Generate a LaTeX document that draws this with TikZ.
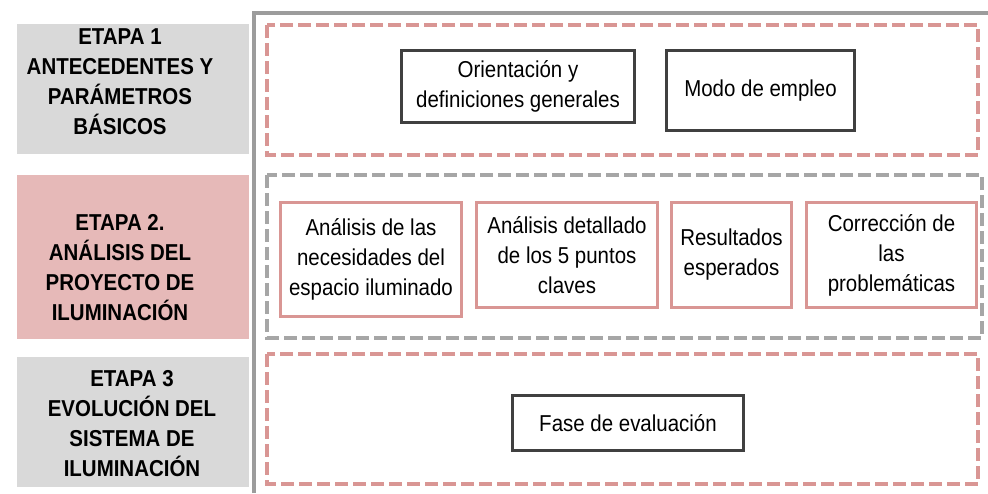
\documentclass[tikz,border=0pt]{standalone}
\usepackage{fontspec}
\setmainfont[FakeStretch=0.89]{Liberation Sans}
\definecolor{bandgray}{HTML}{D9D9D9}
\definecolor{bandpink}{HTML}{E6B9B8}
\definecolor{linepink}{HTML}{D99694}
\definecolor{framegray}{HTML}{9C9C9C}
\definecolor{dashgray}{HTML}{A6A6A6}
\definecolor{boxdark}{HTML}{404040}
\begin{document}
\begin{tikzpicture}[x=1pt,y=-1pt,
  band/.style={inner sep=0pt,minimum width=232pt},
  etapa/.style={font=\bfseries\fontsize{23}{30}\selectfont,align=center,inner sep=0pt},
  darkbox/.style={draw=boxdark,line width=3pt,inner sep=0pt,align=center,font=\fontsize{23}{30}\selectfont},
  pinkbox/.style={draw=linepink,line width=3pt,inner sep=0pt,align=center,font=\fontsize{23}{30}\selectfont},
  reddash/.style={draw=linepink,line width=3.5pt,dash pattern=on 13pt off 5pt},
  graydash/.style={draw=dashgray,line width=3.5pt,dash pattern=on 13pt off 5pt}]

\useasboundingbox (0,0) rectangle (988,493);

\node[band,fill=bandgray,minimum height=130pt] (b1) at (133,89) {};
\node[band,fill=bandpink,minimum height=164pt] (b2) at (133,257) {};
\node[band,fill=bandgray,minimum height=130pt] (b3) at (133,422) {};
\node[etapa] (t1) at (120,82) {ETAPA 1\\ANTECEDENTES Y\\PARÁMETROS\\BÁSICOS};
\node[etapa] (t2) at (120,268) {ETAPA 2.\\ANÁLISIS DEL\\PROYECTO DE\\ILUMINACIÓN};
\node[etapa] (t3) at (132,424) {ETAPA 3\\EVOLUCIÓN DEL\\SISTEMA DE\\ILUMINACIÓN};

\draw[framegray,line width=3.5pt] (254,493)--(254,13)--(988,13);

\draw[reddash] (267,25) rectangle (978,155);
\draw[graydash] (267,175) rectangle (982,338);
\draw[reddash] (267,354) rectangle (978,484);

\node[darkbox,minimum width=233pt,minimum height=72pt] (orient) at (518,86.5) {Orientación y\\definiciones generales};
\node[darkbox,minimum width=188pt,minimum height=80pt] (modo) at (760.5,90.5) {Modo de empleo};

\node[pinkbox,minimum width=181pt,minimum height=114pt] (necesid) at (371,259.5) {Análisis de las\\necesidades del\\espacio iluminado};
\node[pinkbox,minimum width=181pt,minimum height=105pt] (puntos) at (567,255) {Análisis detallado\\de los 5 puntos\\claves};
\node[pinkbox,minimum width=120pt,minimum height=105pt] (result) at (731.5,255) {Resultados\\esperados};
\node[pinkbox,minimum width=170pt,minimum height=105pt] (correc) at (891.5,255) {Corrección de\\las\\problemáticas};

\node[darkbox,minimum width=231pt,minimum height=55pt] (fase) at (628,423) {Fase de evaluación};

\end{tikzpicture}
\end{document}
